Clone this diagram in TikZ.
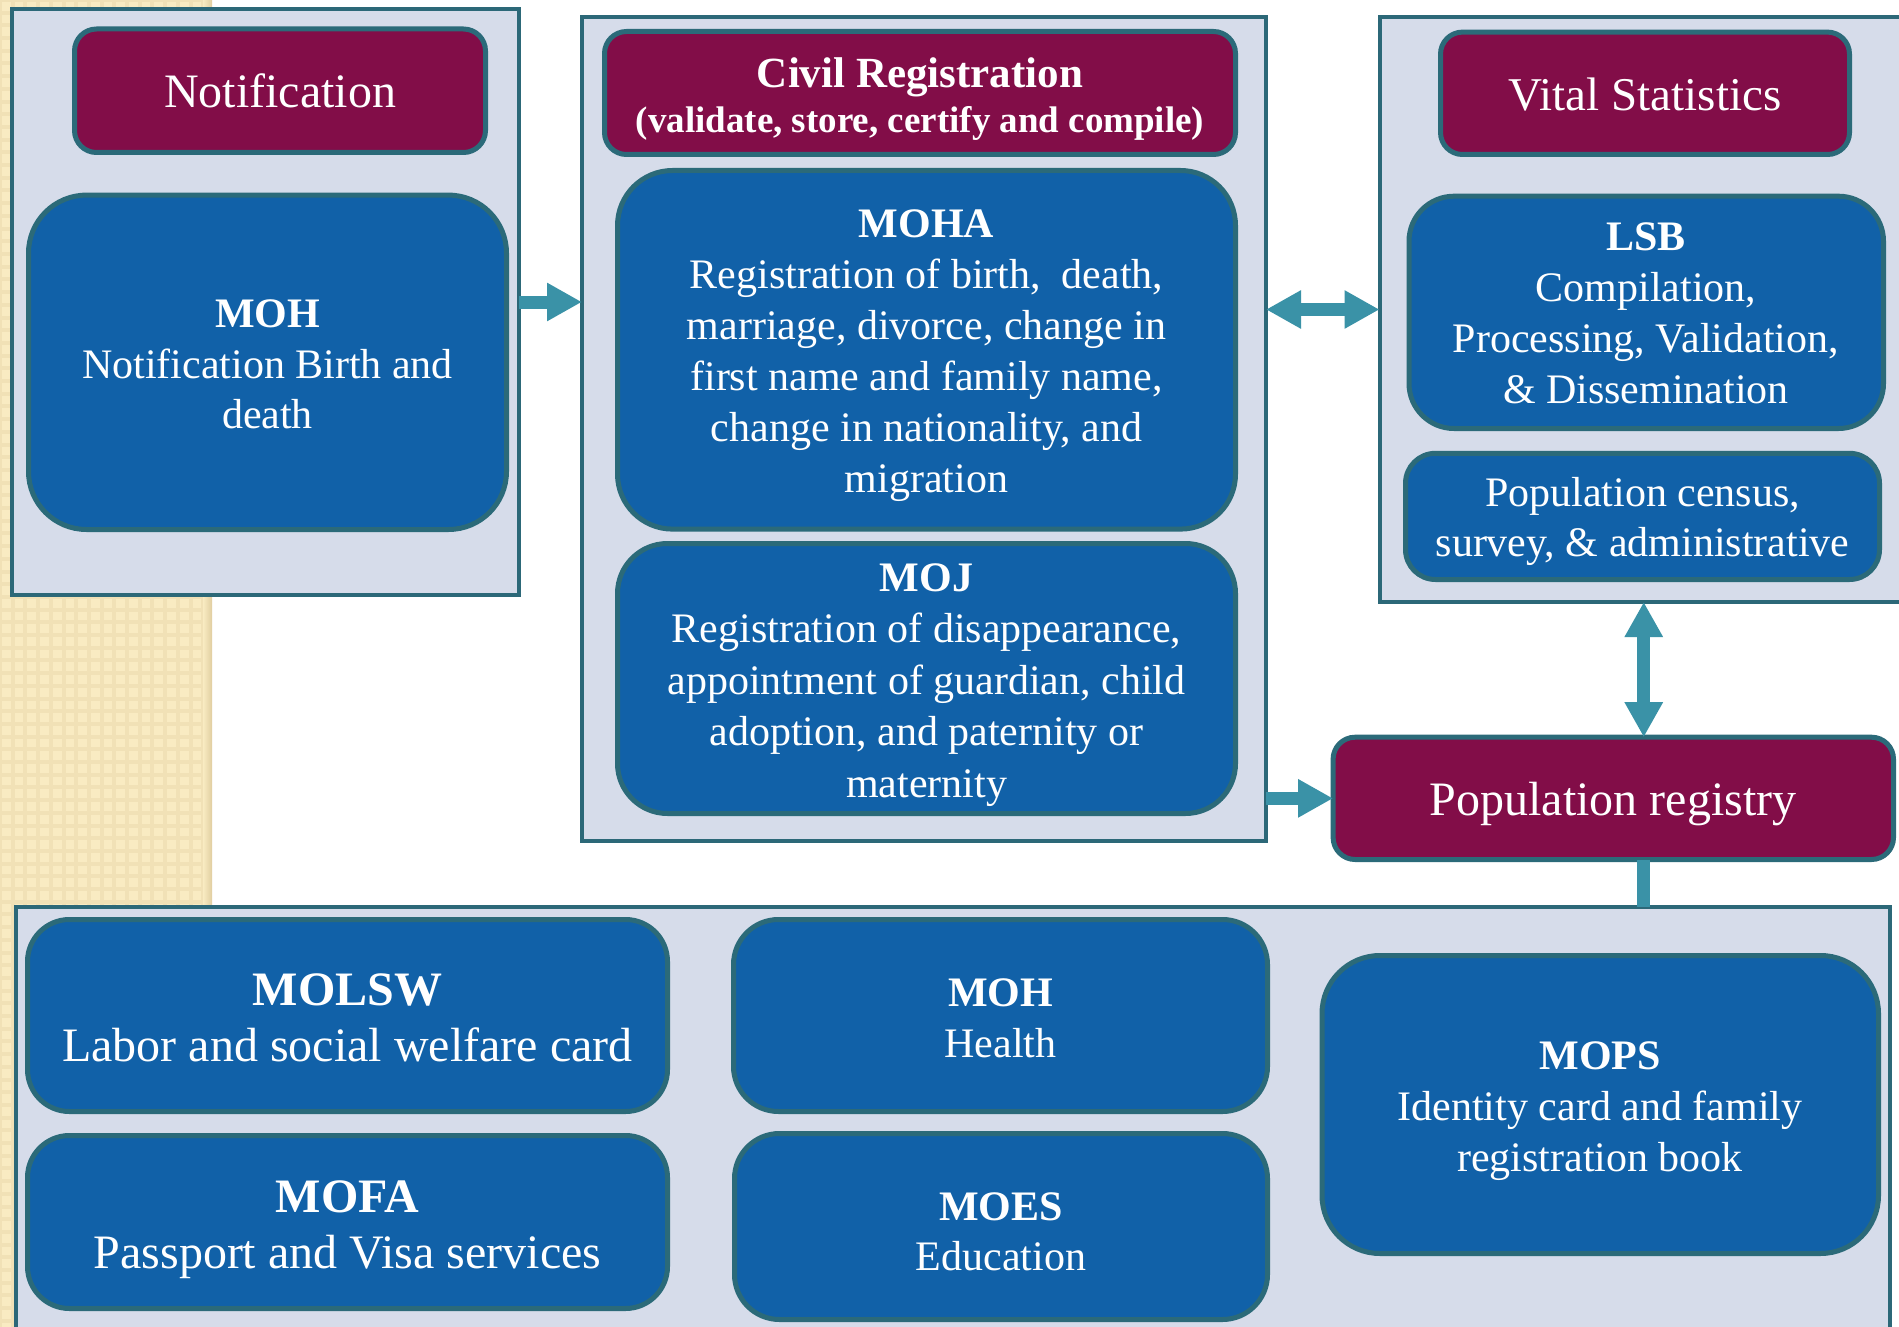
\documentclass[tikz,border=0pt]{standalone}
\usepackage{fontspec}
\setmainfont{Liberation Serif}
\usetikzlibrary{arrows.meta,calc}
\definecolor{panelfill}{RGB}{214,220,234}
\definecolor{panelline}{RGB}{44,104,120}
\definecolor{maroonc}{RGB}{130,13,72}
\definecolor{boxblue}{RGB}{17,97,168}
\definecolor{boxline}{RGB}{43,106,121}
\definecolor{arrowteal}{RGB}{58,146,167}
\definecolor{beigec}{RGB}{249,235,194}
\definecolor{beigeg}{RGB}{241,225,182}
\definecolor{beiged}{RGB}{224,206,160}
\newcommand\fstrut{\rule{0pt}{0.75em}}
\newcommand\mkbox[7]{%
  \node[#2, minimum width={#5-#3-#7}, minimum height={#6-#4-#7}] (#1) at ({(#3+#5)/2},{(#4+#6)/2}) {};}
\begin{document}
\begin{tikzpicture}[x=1pt,y=-1pt,
  panel/.style={draw=panelline, line width=4pt, fill=panelfill, rectangle, inner sep=0pt, outer sep=0pt},
  headbox/.style={draw=boxline, line width=5pt, fill=maroonc, rectangle, rounded corners=22pt, inner sep=0pt, outer sep=0pt},
  bluebox/.style={draw=boxline, line width=5pt, fill=boxblue, rectangle, inner sep=0pt, outer sep=0pt},
  txt/.style={text=white, anchor=north, inner sep=0pt, align=center},
  conn/.style={draw=arrowteal, line width=13pt},
  onetip/.style={-{Triangle[length=35pt,width=36pt]}},
  twotips/.style={{Triangle[length=35pt,width=36pt]}-{Triangle[length=35pt,width=36pt]}}]
\useasboundingbox (0,0) rectangle (1899,1327);
\fill[white] (0,0) rectangle (1899,1327);
\begin{scope}
\clip (0,0) rectangle (203,1327);
\fill[beigec] (0,0) rectangle (203,1327);
\foreach \k in {0,...,105} \draw[beigeg, line width=4pt] (0,{\k*12.7}) -- (212,{\k*12.7});
\foreach \k in {0,...,17} \draw[beigeg, line width=4pt] ({\k*12.7},0) -- ({\k*12.7},1330);
\end{scope}
\shade[left color=beigec, right color=beiged] (203,0) rectangle (212,1327);
% panels
\mkbox{notifP}{panel}{10}{7}{521}{597}{4}
\mkbox{civilP}{panel}{580}{15}{1268}{843}{4}
\mkbox{vitalP}{panel}{1377.5}{15}{1910}{604}{4}
\mkbox{botP}{panel}{14}{905}{1892}{1345}{4}
% boxes
\mkbox{notifH}{headbox}{72}{26.5}{488}{155}{5}
\mkbox{moh}{bluebox,rounded corners=58pt}{26}{192.6}{509}{532}{5}
\mkbox{civilH}{headbox}{602}{29}{1238}{157}{5}
\mkbox{moha}{bluebox,rounded corners=55pt}{615}{168}{1238}{531.6}{5}
\mkbox{moj}{bluebox,rounded corners=50pt}{615}{541}{1238}{816}{5}
\mkbox{vitalH}{headbox}{1438}{29.6}{1852}{157}{5}
\mkbox{lsb}{bluebox,rounded corners=45pt}{1406.5}{193.7}{1886}{431}{5}
\mkbox{census}{bluebox,rounded corners=30pt}{1403}{450.8}{1882}{582}{5}
\mkbox{popreg}{headbox}{1330.6}{734.7}{1896}{862}{5}
\mkbox{molsw}{bluebox,rounded corners=42pt}{25}{917}{670}{1114}{5}
\mkbox{mofa}{bluebox,rounded corners=42pt}{25}{1133}{670}{1311}{5}
\mkbox{mohh}{bluebox,rounded corners=45pt}{731}{917}{1270}{1114}{5}
\mkbox{moes}{bluebox,rounded corners=45pt}{732}{1131}{1270}{1322}{5}
\mkbox{mops}{bluebox,rounded corners=58pt}{1319.5}{953}{1881}{1256}{5}
% texts
\node[txt, font=\fontsize{48}{58}\selectfont] (notifH-t) at (280,71.5) {\fstrut Notification};
\node[txt, font=\fontsize{42}{50.5}\selectfont] (moh-t) at (267.5,295.9) {\fstrut\textbf{MOH}\\Notification Birth and\\death};
\node[txt, font=\bfseries\fontsize{37}{44.7}\selectfont] (civilH-t) at (920,55.45) {{\fontsize{43}{44.7}\selectfont\fstrut Civil Registration}\\(validate, store, certify and compile)};
\node[txt, font=\fontsize{42}{51}\selectfont] (moha-t) at (926.5,205.5) {\fstrut\textbf{MOHA}\\Registration of birth,\ \ death,\\marriage, divorce, change in\\first name and family name,\\change in nationality, and\\migration};
\node[txt, font=\fontsize{42}{51.5}\selectfont] (moj-t) at (926.5,559.5) {\fstrut\textbf{MOJ}\\Registration of disappearance,\\appointment of guardian, child\\adoption, and paternity or\\maternity};
\node[txt, font=\fontsize{47}{56}\selectfont] (vitalH-t) at (1645,75.45) {\fstrut Vital Statistics};
\node[txt, font=\fontsize{42}{51}\selectfont] (lsb-t) at (1646,218.5) {\fstrut\textbf{LSB}\\Compilation,\\Processing, Validation,\\\& Dissemination};
\node[txt, font=\fontsize{42}{50.7}\selectfont] (census-t) at (1642.5,474.5) {\fstrut Population census,\\survey, \& administrative};
\node[txt, font=\fontsize{48}{58}\selectfont] (popreg-t) at (1613,779) {\fstrut Population registry};
\node[txt, font=\fontsize{48}{56.5}\selectfont] (molsw-t) at (347.5,969) {\fstrut\textbf{MOLSW}\\Labor and social welfare card};
\node[txt, font=\fontsize{48}{56}\selectfont] (mofa-t) at (347.5,1176) {\fstrut\textbf{MOFA}\\Passport and Visa services};
\node[txt, font=\fontsize{42}{51}\selectfont] (mohh-t) at (1000.5,974.5) {\fstrut\textbf{MOH}\\Health};
\node[txt, font=\fontsize{42}{50}\selectfont] (moes-t) at (1001,1188.5) {\fstrut\textbf{MOES}\\Education};
\node[txt, font=\fontsize{42}{51.2}\selectfont] (mops-t) at (1600,1037.5) {\fstrut\textbf{MOPS}\\Identity card and family\\registration book};
% connectors
\draw[conn, onetip] (notifP.east) -- (notifP.east -| civilP.west);
\draw[conn, twotips] (civilP.east |- vitalP.west) -- (vitalP.west);
\draw[conn, twotips] (vitalP.south) -- (vitalP.south |- popreg.north);
\draw[conn, onetip] (popreg.west -| civilP.east) -- (popreg.west);
\draw[conn] (vitalP.south |- popreg.south) -- (vitalP.south |- botP.north);
\end{tikzpicture}
\end{document}
